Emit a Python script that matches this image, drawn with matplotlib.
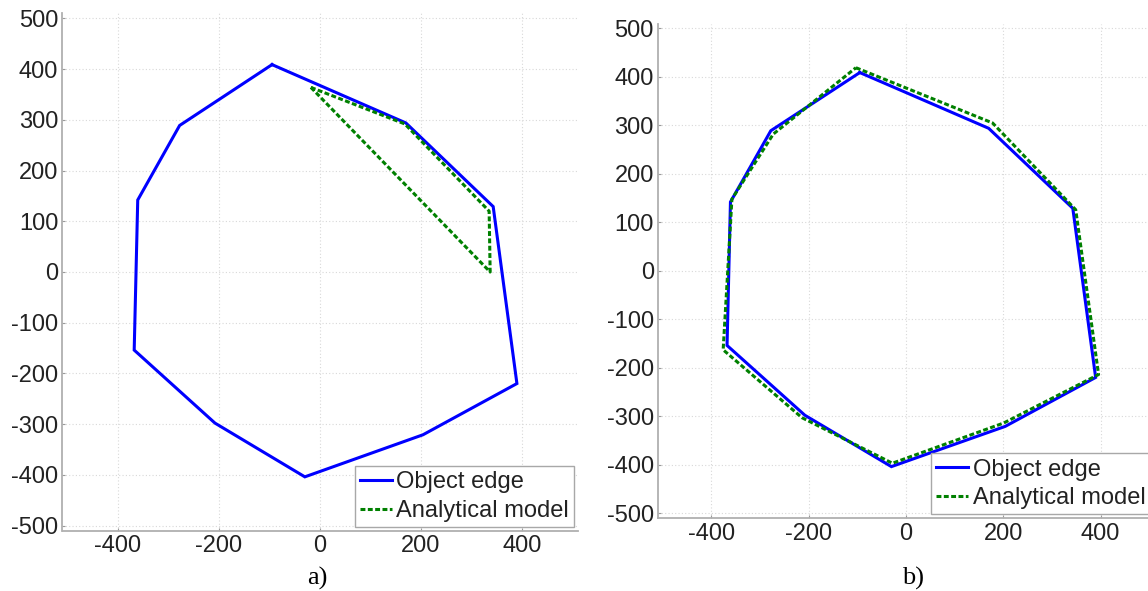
import matplotlib
matplotlib.use("Agg")
import matplotlib.pyplot as plt

plt.rcParams['font.family'] = ['Liberation Sans', 'DejaVu Sans']
plt.rcParams['axes.unicode_minus'] = False

# object edge (same contour in both panels)
edge_x = [-95, 170, 343, 390, 204, -30, -208, -368, -361, -278, -95]
edge_y = [409, 294, 129, -220, -321, -404, -298, -154, 142, 289, 409]

# a) analytical model, first iteration
model_a_x = [-18, 168, 335, 337, -18]
model_a_y = [364, 292, 120, 0, 364]

# b) analytical model, converged
model_b_x = [-103, 178, 349, 396, 201, -28, -214, -376, -358, -273, -103]
model_b_y = [419, 305, 126, -214, -314, -397, -303, -163, 148, 282, 419]

xticks = [-400, -200, 0, 200, 400]
yticks = [-500, -400, -300, -200, -100, 0, 100, 200, 300, 400, 500]
lim = 510

fig = plt.figure(figsize=(11.48, 5.91), dpi=100)
ax1 = fig.add_axes([62.5 / 1148, 60.4 / 591, 515 / 1148, 517.2 / 591])
ax2 = fig.add_axes([658 / 1148, 73 / 591, 496 / 1148, 494.4 / 591])

panels = [(ax1, model_a_x, model_a_y), (ax2, model_b_x, model_b_y)]
for ax, mx, my in panels:
    ax.plot(edge_x, edge_y, color='#0000ff', lw=2.2, label='Object edge',
            solid_joinstyle='miter')
    ax.plot(mx, my, color='#008000', lw=2.2, linestyle=(0, (1.6, 0.8)),
            label='Analytical model')
    ax.set_xlim(-lim, lim)
    ax.set_ylim(-lim, lim)
    ax.set_xticks(xticks)
    ax.set_yticks(yticks)
    ax.grid(True, color='#d8d8d8', linestyle=(0, (1, 2)), lw=0.8)
    ax.set_axisbelow(True)
    for s in ['top', 'right']:
        ax.spines[s].set_visible(False)
    for s in ['left', 'bottom']:
        ax.spines[s].set_color('#b0b0b0')
        ax.spines[s].set_linewidth(1.3)
    ax.tick_params(direction='in', length=2.5, width=0.8, color='#9a9a9a',
                   labelsize=17, labelcolor='#222222')
    ax.tick_params(axis='x', pad=3.5)
    ax.tick_params(axis='y', pad=3)
    leg = ax.legend(loc='lower right', bbox_to_anchor=(1.0, 0.0),
                    borderaxespad=0.15, fontsize=17, handlelength=1.35,
                    handletextpad=0.18, borderpad=0.22, labelspacing=0.28,
                    fancybox=False, framealpha=1, edgecolor='#a8a8a8')
    leg.get_frame().set_linewidth(1.0)
    for t in leg.get_texts():
        t.set_color('#222222')

fig.text(317 / 1148, 1 - 578 / 591, 'a)', family='Liberation Serif',
         fontsize=19, ha='center', va='center')
fig.text(913 / 1148, 1 - 578 / 591, 'b)', family='Liberation Serif',
         fontsize=19, ha='center', va='center')

fig.savefig('out.png', dpi=100)
